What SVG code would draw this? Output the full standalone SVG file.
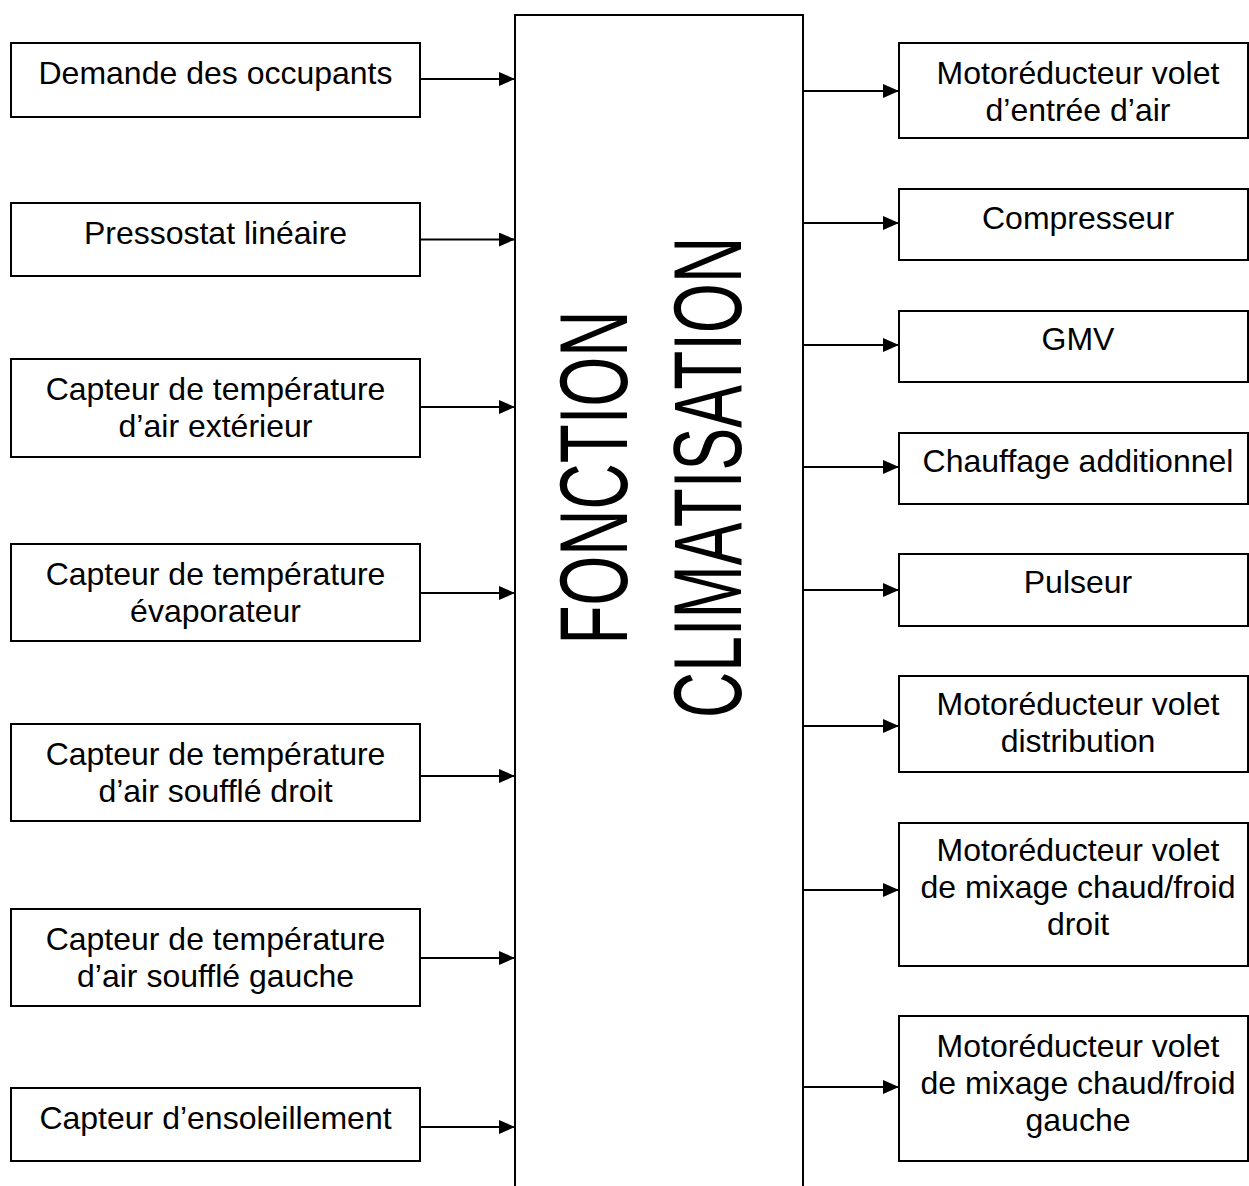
<svg xmlns="http://www.w3.org/2000/svg" width="1249" height="1186" viewBox="0 0 1249 1186">
<style>
  .box { fill: #fff; stroke: #000; stroke-width: 2; }
  .lbl { font-family: "Liberation Sans", Arial, sans-serif; font-size: 32px; fill: #000; }
  .l { text-anchor: middle; }
  .big { font-family: "Liberation Sans", Arial, sans-serif; font-size: 64px; fill: #000; text-anchor: middle; }
  .conn { stroke: #000; stroke-width: 2; fill: none; marker-end: url(#arr); }
</style>
<defs>
  <marker id="arr" markerUnits="userSpaceOnUse" markerWidth="16" markerHeight="14" refX="16" refY="7" orient="auto">
    <path d="M0,0 L16,7 L0,14 Z" fill="#000"/>
  </marker>
</defs>
<rect width="1249" height="1186" fill="#fff"/>

<g id="center">
  <rect class="box" x="515" y="15" width="288" height="1200"/>
  <text class="big" transform="translate(627,477.5) rotate(-90) scale(1,1.5)">FONCTION</text>
  <text class="big" transform="translate(741,477.5) rotate(-90) scale(1,1.5)">CLIMATISATION</text>
</g>

<g id="in1"><rect class="box" x="11" y="43" width="409" height="74"/><text class="lbl l" x="215.5" y="84">Demande des occupants</text></g>
<g id="in2"><rect class="box" x="11" y="203" width="409" height="73"/><text class="lbl l" x="215.5" y="244">Pressostat linéaire</text></g>
<g id="in3"><rect class="box" x="11" y="359" width="409" height="98"/><text class="lbl l" x="215.5" y="400">Capteur de température</text><text class="lbl l" x="215.5" y="437">d’air extérieur</text></g>
<g id="in4"><rect class="box" x="11" y="544" width="409" height="97"/><text class="lbl l" x="215.5" y="585">Capteur de température</text><text class="lbl l" x="215.5" y="622">évaporateur</text></g>
<g id="in5"><rect class="box" x="11" y="724" width="409" height="97"/><text class="lbl l" x="215.5" y="765">Capteur de température</text><text class="lbl l" x="215.5" y="802">d’air soufflé droit</text></g>
<g id="in6"><rect class="box" x="11" y="909" width="409" height="97"/><text class="lbl l" x="215.5" y="950">Capteur de température</text><text class="lbl l" x="215.5" y="987">d’air soufflé gauche</text></g>
<g id="in7"><rect class="box" x="11" y="1088" width="409" height="73"/><text class="lbl l" x="215.5" y="1129">Capteur d’ensoleillement</text></g>

<g id="out1"><rect class="box" x="899" y="43" width="349" height="95"/><text class="lbl l" x="1078" y="84">Motoréducteur volet</text><text class="lbl l" x="1078" y="121">d’entrée d’air</text></g>
<g id="out2"><rect class="box" x="899" y="189" width="349" height="71"/><text class="lbl l" x="1078" y="229">Compresseur</text></g>
<g id="out3"><rect class="box" x="899" y="311" width="349" height="71"/><text class="lbl l" x="1078" y="350">GMV</text></g>
<g id="out4"><rect class="box" x="899" y="433" width="349" height="71"/><text class="lbl l" x="1078" y="472">Chauffage additionnel</text></g>
<g id="out5"><rect class="box" x="899" y="554" width="349" height="72"/><text class="lbl l" x="1078" y="593">Pulseur</text></g>
<g id="out6"><rect class="box" x="899" y="676" width="349" height="96"/><text class="lbl l" x="1078" y="715">Motoréducteur volet</text><text class="lbl l" x="1078" y="752">distribution</text></g>
<g id="out7"><rect class="box" x="899" y="823" width="349" height="143"/><text class="lbl l" x="1078" y="861">Motoréducteur volet</text><text class="lbl l" x="1078" y="898">de mixage chaud/froid</text><text class="lbl l" x="1078" y="935">droit</text></g>
<g id="out8"><rect class="box" x="899" y="1016" width="349" height="145"/><text class="lbl l" x="1078" y="1057">Motoréducteur volet</text><text class="lbl l" x="1078" y="1094">de mixage chaud/froid</text><text class="lbl l" x="1078" y="1131">gauche</text></g>

<g id="connectors">
  <line class="conn" x1="420" y1="79" x2="515" y2="79"/>
  <line class="conn" x1="420" y1="239.5" x2="515" y2="239.5"/>
  <line class="conn" x1="420" y1="407" x2="515" y2="407"/>
  <line class="conn" x1="420" y1="593" x2="515" y2="593"/>
  <line class="conn" x1="420" y1="776" x2="515" y2="776"/>
  <line class="conn" x1="420" y1="958" x2="515" y2="958"/>
  <line class="conn" x1="420" y1="1127" x2="515" y2="1127"/>
  <line class="conn" x1="803" y1="91" x2="899" y2="91"/>
  <line class="conn" x1="803" y1="223" x2="899" y2="223"/>
  <line class="conn" x1="803" y1="345" x2="899" y2="345"/>
  <line class="conn" x1="803" y1="467" x2="899" y2="467"/>
  <line class="conn" x1="803" y1="590" x2="899" y2="590"/>
  <line class="conn" x1="803" y1="726" x2="899" y2="726"/>
  <line class="conn" x1="803" y1="890" x2="899" y2="890"/>
  <line class="conn" x1="803" y1="1087" x2="899" y2="1087"/>
</g>
</svg>
